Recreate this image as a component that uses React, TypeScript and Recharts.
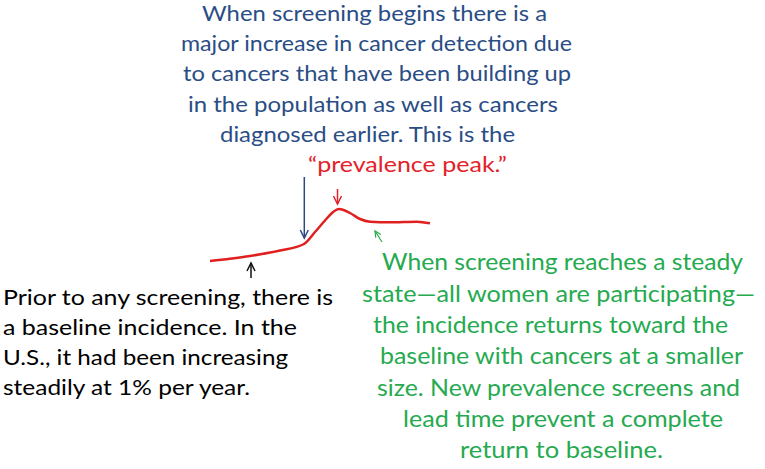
import React from 'react';
import { LineChart, Line, XAxis, YAxis, ReferenceLine } from 'recharts';

// Incidence curve (years since start vs. relative incidence)
const years = [0, 2, 4, 7, 9.4, 10.5, 11.5, 12.2, 12.9, 14, 15, 16, 18, 20.7, 22];
const incidence = [100, 102.3, 105, 110.5, 117, 129, 140.5, 148, 152, 148, 142, 139.3, 138.7, 139.3, 137.7];

// Annotation arrows in data units: [x1, y1, x2, y2] (tip at x2,y2)
const arrowNames = ['screeningStart', 'prevalencePeak', 'baseline', 'steadyState'];
const arrowSegments = [
  [9.43, 184, 9.43, 123],
  [12.75, 172, 12.75, 157],
  [4.1, 83, 4.1, 98],
  [17.2, 119, 16.5, 130],
];
const arrowColors = ['#2c4a80', '#e3232a', '#111111', '#2aa84f'];

// Texts
const blueLines = [
  'When screening begins there is a',
  'major increase in cancer detection due',
  'to cancers that have been building up',
  'in the population as well as cancers',
  'diagnosed earlier. This is the',
];
const redLines = ['\u201Cprevalence peak.\u201D'];
const blackLines = [
  'Prior to any screening, there is',
  'a baseline incidence. In the',
  'U.S., it had been increasing',
  'steadily at 1% per year.',
];
const greenLines = [
  'When screening reaches a steady',
  'state\u2014all women are participating\u2014',
  'the incidence returns toward the',
  'baseline with cancers at a smaller',
  'size. New prevalence screens and',
  'lead time prevent a complete',
  'return to baseline.',
];

const data = years.map((y, i) => ({ year: y, incidence: incidence[i] }));

const BLUE = '#2a4d85';
const RED = '#e3232a';
const GREEN = '#25aa50';
const BLACK = '#000000';

// layout [x, baseline, width]
const blueLayout = [
  [202, 21, 345],
  [181, 51, 391],
  [183, 81, 388],
  [188, 112, 370],
  [220, 142, 295],
];
const redLayout = [[308, 172, 199]];
const blackLayout = [
  [3, 305, 330],
  [3, 335, 294],
  [3, 365, 285],
  [3, 395, 247],
];
const greenLayout = [
  [382, 270, 361],
  [362, 302, 393],
  [373, 333, 355],
  [380, 364, 363],
  [377, 396, 363],
  [403, 427, 320],
  [460, 458, 203],
];

function makeArrow(color: string, width: number, head: number) {
  return (p: any) => {
    const { x1, y1, x2, y2 } = p;
    if ([x1, y1, x2, y2].some((v) => typeof v !== 'number' || isNaN(v))) return <g />;
    const dx = x2 - x1;
    const dy = y2 - y1;
    const len = Math.sqrt(dx * dx + dy * dy) || 1;
    const ux = dx / len;
    const uy = dy / len;
    const nx = -uy;
    const ny = ux;
    const hw = head * 0.5;
    const bx = x2 - ux * head;
    const by = y2 - uy * head;
    return (
      <g>
        <line x1={x1} y1={y1} x2={x2} y2={y2} stroke={color} strokeWidth={width} />
        <polyline
          points={`${bx + nx * hw},${by + ny * hw} ${x2},${y2} ${bx - nx * hw},${by - ny * hw}`}
          fill="none"
          stroke={color}
          strokeWidth={width}
        />
      </g>
    );
  };
}

const arrowWidths = [1.5, 1.5, 1.5, 1.2];
const arrowHeads = [8, 8, 8, 6];

function TextBlock({ lines, layout, color, size }: { lines: string[]; layout: number[][]; color: string; size: number }) {
  return (
    <g>
      {lines.map((t, i) => (
        <text
          key={i}
          x={layout[i][0]}
          y={layout[i][1]}
          fill={color}
          fontSize={size}
          fontFamily="Lato, 'Open Sans', sans-serif"
          textLength={layout[i][2]}
          lengthAdjust="spacingAndGlyphs"
        >
          {t}
        </text>
      ))}
    </g>
  );
}

export default function App() {
  return (
    <div style={{ position: 'absolute', left: 0, top: 0, width: 765, height: 469, background: '#fff' }}>
      <LineChart
        width={765}
        height={469}
        data={data}
        margin={{ top: 161, right: 315, bottom: 188, left: 190 }}
      >
        <XAxis type="number" dataKey="year" domain={[-2, 24]} hide allowDataOverflow />
        <YAxis type="number" domain={[80, 200]} hide allowDataOverflow />
        <Line
          type="monotone"
          dataKey="incidence"
          stroke="#e01f1f"
          strokeWidth={2.5}
          dot={false}
          activeDot={false}
          isAnimationActive={false}
        />
        {arrowSegments.map((s, i) => (
          <ReferenceLine
            key={arrowNames[i]}
            segment={[
              { x: s[0], y: s[1] },
              { x: s[2], y: s[3] },
            ]}
            ifOverflow="visible"
            stroke={arrowColors[i]}
            shape={makeArrow(arrowColors[i], arrowWidths[i], arrowHeads[i])}
          />
        ))}
      </LineChart>
      <svg
        width={765}
        height={469}
        style={{ position: 'absolute', left: 0, top: 0, pointerEvents: 'none' }}
      >
        <TextBlock lines={blueLines} layout={blueLayout} color={BLUE} size={22} />
        <TextBlock lines={redLines} layout={redLayout} color={RED} size={22} />
        <TextBlock lines={blackLines} layout={blackLayout} color={BLACK} size={22} />
        <TextBlock lines={greenLines} layout={greenLayout} color={GREEN} size={23} />
      </svg>
    </div>
  );
}
